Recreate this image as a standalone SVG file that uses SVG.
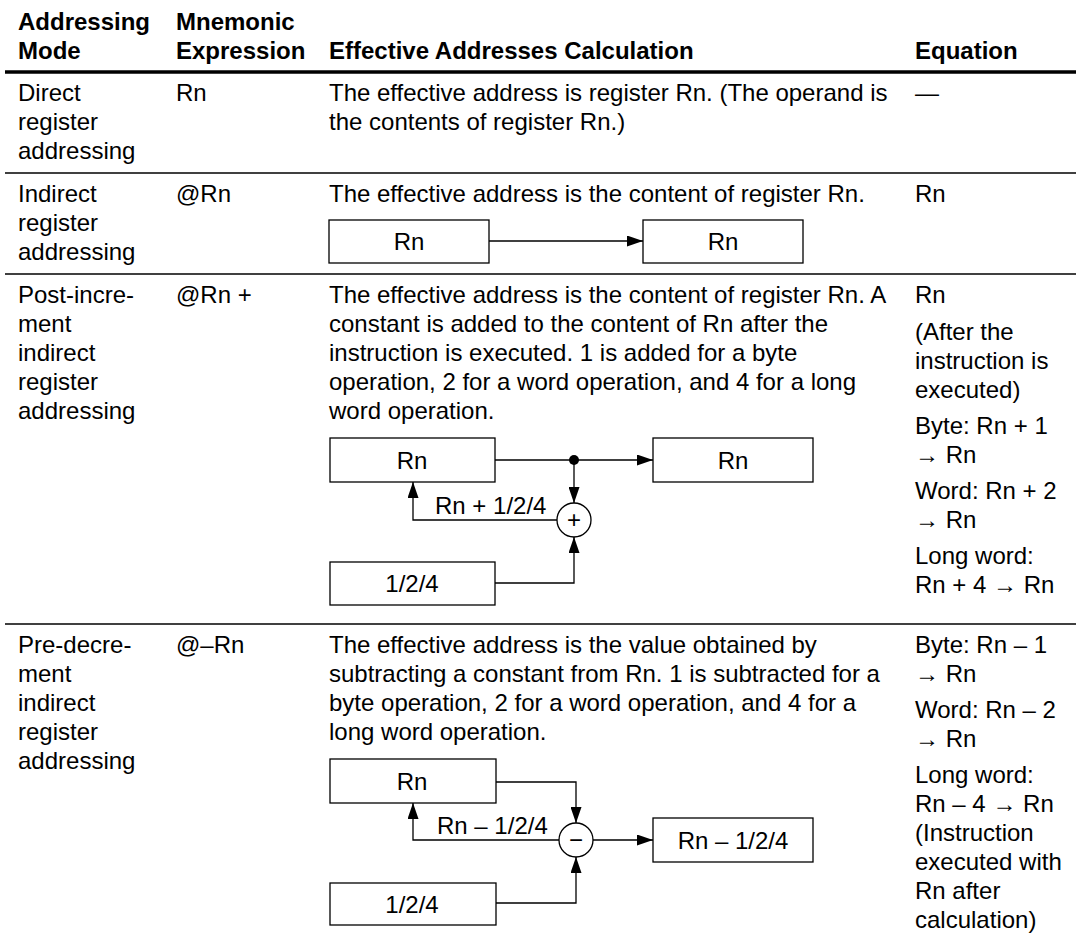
<svg xmlns="http://www.w3.org/2000/svg" width="1078" height="951" viewBox="0 0 1078 951">
<defs>
<marker id="ah" viewBox="0 0 16 11" refX="16" refY="5.5" markerWidth="16" markerHeight="11" markerUnits="userSpaceOnUse" orient="auto"><path d="M0,0 L16,5.5 L0,11 z" fill="#000"/></marker>
</defs>
<style>
text{font-family:"Liberation Sans",Arial,sans-serif;font-size:24px;fill:#000}
.h{font-weight:bold}
.c{text-anchor:middle}
.box{fill:#fff;stroke:#000;stroke-width:1.3}
.ln{fill:none;stroke:#000;stroke-width:1.3}
.rule{stroke:#000;stroke-width:1.3}
.thick{stroke:#000;stroke-width:3.5}
</style>
<rect width="1078" height="951" fill="#fff"/>
<g id="header">
<text class="h" x="18" y="30">Addressing</text>
<text class="h" x="18" y="59">Mode</text>
<text class="h" x="176" y="30">Mnemonic</text>
<text class="h" x="176" y="59">Expression</text>
<text class="h" x="329" y="59">Effective Addresses Calculation</text>
<text class="h" x="915" y="59">Equation</text>
</g>
<g id="rules">
<line x1="5" y1="72" x2="1076" y2="72" class="thick"/>
<line x1="5" y1="173" x2="1076" y2="173" class="rule"/>
<line x1="5" y1="274" x2="1076" y2="274" class="rule"/>
<line x1="5" y1="624" x2="1076" y2="624" class="rule"/>
</g>
<g id="row-direct">
<text x="18" y="101">Direct</text>
<text x="18" y="130">register</text>
<text x="18" y="159">addressing</text>
<text x="176" y="101">Rn</text>
<text x="329" y="101">The effective address is register Rn. (The operand is</text>
<text x="329" y="130">the contents of register Rn.)</text>
<text x="915" y="101">—</text>
</g>
<g id="row-indirect">
<text x="18" y="202">Indirect</text>
<text x="18" y="231">register</text>
<text x="18" y="260">addressing</text>
<text x="176" y="202">@Rn</text>
<text x="329" y="202">The effective address is the content of register Rn.</text>
<text x="915" y="202">Rn</text>
</g>
<g id="ind-src"><rect class="box" x="329" y="220" width="160" height="43"/><text class="c" x="409" y="250">Rn</text></g>
<g id="ind-dst"><rect class="box" x="643" y="220" width="160" height="43"/><text class="c" x="723" y="250">Rn</text></g>
<g id="row-postinc">
<text x="18" y="303">Post-incre-</text>
<text x="18" y="332">ment</text>
<text x="18" y="361">indirect</text>
<text x="18" y="390">register</text>
<text x="18" y="419">addressing</text>
<text x="176" y="303">@Rn +</text>
<text x="329" y="303">The effective address is the content of register Rn. A</text>
<text x="329" y="332">constant is added to the content of Rn after the</text>
<text x="329" y="361">instruction is executed. 1 is added for a byte</text>
<text x="329" y="390">operation, 2 for a word operation, and 4 for a long</text>
<text x="329" y="419">word operation.</text>
<text x="915" y="303">Rn</text>
<text x="915" y="340">(After the</text>
<text x="915" y="369">instruction is</text>
<text x="915" y="398">executed)</text>
<text x="915" y="434">Byte: Rn + 1</text>
<text x="915" y="463">→ Rn</text>
<text x="915" y="499">Word: Rn + 2</text>
<text x="915" y="528">→ Rn</text>
<text x="915" y="564">Long word:</text>
<text x="915" y="593">Rn + 4 → Rn</text>
</g>
<g id="pi-src"><rect class="box" x="330" y="438" width="165" height="44"/><text class="c" x="412" y="469">Rn</text></g>
<g id="pi-dst"><rect class="box" x="653" y="438" width="160" height="44"/><text class="c" x="733" y="469">Rn</text></g>
<g id="pi-const"><rect class="box" x="330" y="562" width="165" height="43"/><text class="c" x="412" y="592">1/2/4</text></g>
<g id="pi-add"><circle cx="574" cy="520" r="17" class="box"/><text class="c" x="574" y="528">+</text></g>
<g id="row-predec">
<text x="18" y="653">Pre-decre-</text>
<text x="18" y="682">ment</text>
<text x="18" y="711">indirect</text>
<text x="18" y="740">register</text>
<text x="18" y="769">addressing</text>
<text x="176" y="653">@–Rn</text>
<text x="329" y="653">The effective address is the value obtained by</text>
<text x="329" y="682">subtracting a constant from Rn. 1 is subtracted for a</text>
<text x="329" y="711">byte operation, 2 for a  word operation, and 4 for a</text>
<text x="329" y="740">long word operation.</text>
<text x="915" y="653">Byte: Rn – 1</text>
<text x="915" y="682">→ Rn</text>
<text x="915" y="718">Word: Rn – 2</text>
<text x="915" y="747">→ Rn</text>
<text x="915" y="783">Long word:</text>
<text x="915" y="812">Rn – 4 → Rn</text>
<text x="915" y="841">(Instruction</text>
<text x="915" y="870">executed with</text>
<text x="915" y="899">Rn after</text>
<text x="915" y="928">calculation)</text>
</g>
<g id="pd-src"><rect class="box" x="330" y="759" width="166" height="44"/><text class="c" x="412" y="790">Rn</text></g>
<g id="pd-dst"><rect class="box" x="653" y="818" width="160" height="44"/><text class="c" x="733" y="849">Rn – 1/2/4</text></g>
<g id="pd-const"><rect class="box" x="330" y="883" width="166" height="42"/><text class="c" x="412" y="913">1/2/4</text></g>
<g id="pd-sub"><circle cx="576" cy="840" r="17" class="box"/><text class="c" x="576" y="848">−</text></g>
<g id="connectors">
<path class="ln" d="M489,241 H643" marker-end="url(#ah)"/>
<path class="ln" d="M495,460 H653" marker-end="url(#ah)"/>
<circle cx="574" cy="460" r="5" fill="#000"/>
<path class="ln" d="M574,460 V503" marker-end="url(#ah)"/>
<path class="ln" d="M557,520 H413 V482" marker-end="url(#ah)"/>
<path class="ln" d="M495,583 H574 V537" marker-end="url(#ah)"/>
<text x="435" y="514">Rn + 1/2/4</text>
<path class="ln" d="M496,782 H576 V823" marker-end="url(#ah)"/>
<path class="ln" d="M559,840 H413 V803" marker-end="url(#ah)"/>
<path class="ln" d="M593,840 H653" marker-end="url(#ah)"/>
<path class="ln" d="M496,903 H576 V857" marker-end="url(#ah)"/>
<text x="437" y="834">Rn – 1/2/4</text>
</g>
</svg>
